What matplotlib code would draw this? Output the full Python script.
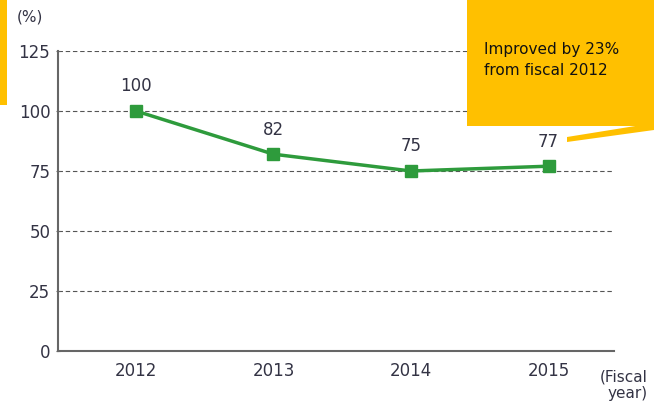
import matplotlib
matplotlib.use('Agg')
import matplotlib.pyplot as plt
from matplotlib.patches import Rectangle, Polygon

plt.rcParams['font.family'] = ['DejaVu Sans']

# === データ ===
years = ['2012', '2013', '2014', '2015']
values = [100, 82, 75, 77]
y_ticks = [0, 25, 50, 75, 100, 125]

COLOR_LINE = '#2E9B3C'
COLOR_TEXT = '#333344'
COLOR_GRID = '#555555'
COLOR_YELLOW = '#FFC000'

fig = plt.figure(figsize=(6.54, 4.07), dpi=100)
ax = fig.add_axes([58/654, 1 - 351/407, (614 - 58)/654, 300/407])

x = list(range(len(years)))
ax.plot(x, values, color=COLOR_LINE, linewidth=2.5, marker='s',
        markersize=8, zorder=4, clip_on=False)
for xi, v in zip(x, values):
    ax.text(xi, v + 6.5, str(v), ha='center', va='bottom', fontsize=12,
            color=COLOR_TEXT)

ax.set_xlim(-0.567, 3.476)
ax.set_ylim(0, 125)
ax.set_xticks(x)
ax.set_xticklabels(years, fontsize=12, color=COLOR_TEXT)
ax.set_yticks(y_ticks)
ax.set_yticklabels([str(t) for t in y_ticks], fontsize=12, color=COLOR_TEXT)
ax.tick_params(axis='x', length=0, pad=8)
ax.tick_params(axis='y', length=3, direction='inout', color='#666666', pad=4)

for t in y_ticks[1:]:
    ax.axhline(t, color=COLOR_GRID, linestyle=(0, (4, 2.5)), linewidth=0.8, zorder=1)

for s in ['top', 'right']:
    ax.spines[s].set_visible(False)
ax.spines['left'].set_color('#666666')
ax.spines['bottom'].set_color('#666666')
ax.spines['left'].set_linewidth(1.5)
ax.spines['bottom'].set_linewidth(1.5)

# 単位
fig.text(30/654, 1 - 17/407, '(%)', fontsize=11, color=COLOR_TEXT,
         ha='center', va='center')
fig.text(648/654, 1 - 385/407, '(Fiscal\nyear)', fontsize=11,
         color=COLOR_TEXT, ha='right', va='center', linespacing=1.1)

# 黄色の枠
fig.patches.append(Rectangle((0, 1 - 105/407), 7/654, 105/407,
                             transform=fig.transFigure, facecolor=COLOR_YELLOW,
                             edgecolor='none', zorder=5))
fig.patches.append(Rectangle((467/654, 1 - 126/407), 187/654, 126/407,
                             transform=fig.transFigure, facecolor=COLOR_YELLOW,
                             edgecolor='none', zorder=5))
tail = [(567/654, 1 - 137/407), (654/654, 1 - 123/407),
        (654/654, 1 - 130/407), (567/654, 1 - 142/407)]
fig.patches.append(Polygon(tail, closed=True, transform=fig.transFigure,
                           facecolor=COLOR_YELLOW, edgecolor='none', zorder=5))
fig.text(484/654, 1 - 60/407, 'Improved by 23%\nfrom fiscal 2012',
         fontsize=11, color='#111111', ha='left', va='center',
         linespacing=1.5, zorder=6)

fig.savefig('out.png', dpi=100, facecolor='white')
plt.close()
